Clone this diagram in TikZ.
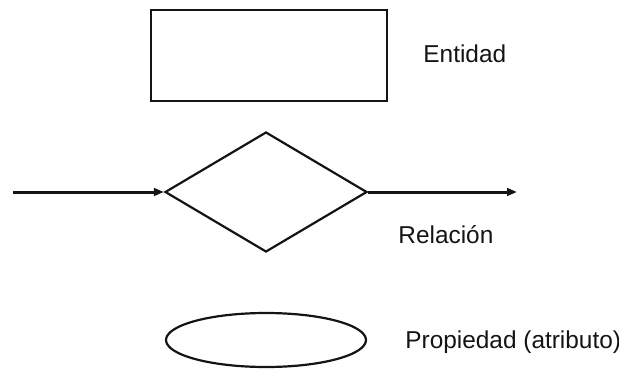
\documentclass[tikz,border=0pt]{standalone}
\usepackage{fontspec}
\setmainfont{Liberation Sans}
\usepackage{tikz}
\usetikzlibrary{shapes.geometric, arrows.meta, positioning}
\definecolor{mydark}{RGB}{20,20,20}
\tikzset{
  entbox/.style={rectangle, draw=mydark, line width=1.3pt,
    minimum width=118pt, minimum height=45.5pt, inner sep=0pt},
  relbox/.style={diamond, draw=mydark, line width=1.1pt,
    minimum width=101pt, minimum height=60pt, inner sep=0pt},
  propbox/.style={ellipse, draw=mydark, line width=1.1pt,
    minimum width=100pt, minimum height=27pt, inner sep=0pt},
  arrow/.style={-{Triangle[length=5pt, width=3.8pt]}, line width=1.5pt, color=mydark},
  lbl/.style={anchor=base west, inner sep=0pt,
    font=\fontsize{12.2}{14}\selectfont, color=mydark}
}

\begin{document}
\begin{tikzpicture}[x=0.5pt, y=-0.5pt]
  \useasboundingbox (0,0) rectangle (619,369);

  % Entidad
  \node[entbox] (ent) at (269,55.5) {};
  \node[lbl] (entlbl) at (423,62) {Entidad};

  % Relacion with arrows
  \node[relbox] (rel) at (266,192) {};
  \coordinate (relin) at (13,192);
  \coordinate (relout) at (517,192);
  \draw[arrow] (relin) -- (rel.west);
  \draw[arrow] (rel.east) -- (relout);
  \node[lbl] (rellbl) at (398,243) {Relación};

  % Propiedad
  \node[propbox] (prop) at (266,340) {};
  \node[lbl] (proplbl) at (405,348) {Propiedad (atributo)};
\end{tikzpicture}
\end{document}
